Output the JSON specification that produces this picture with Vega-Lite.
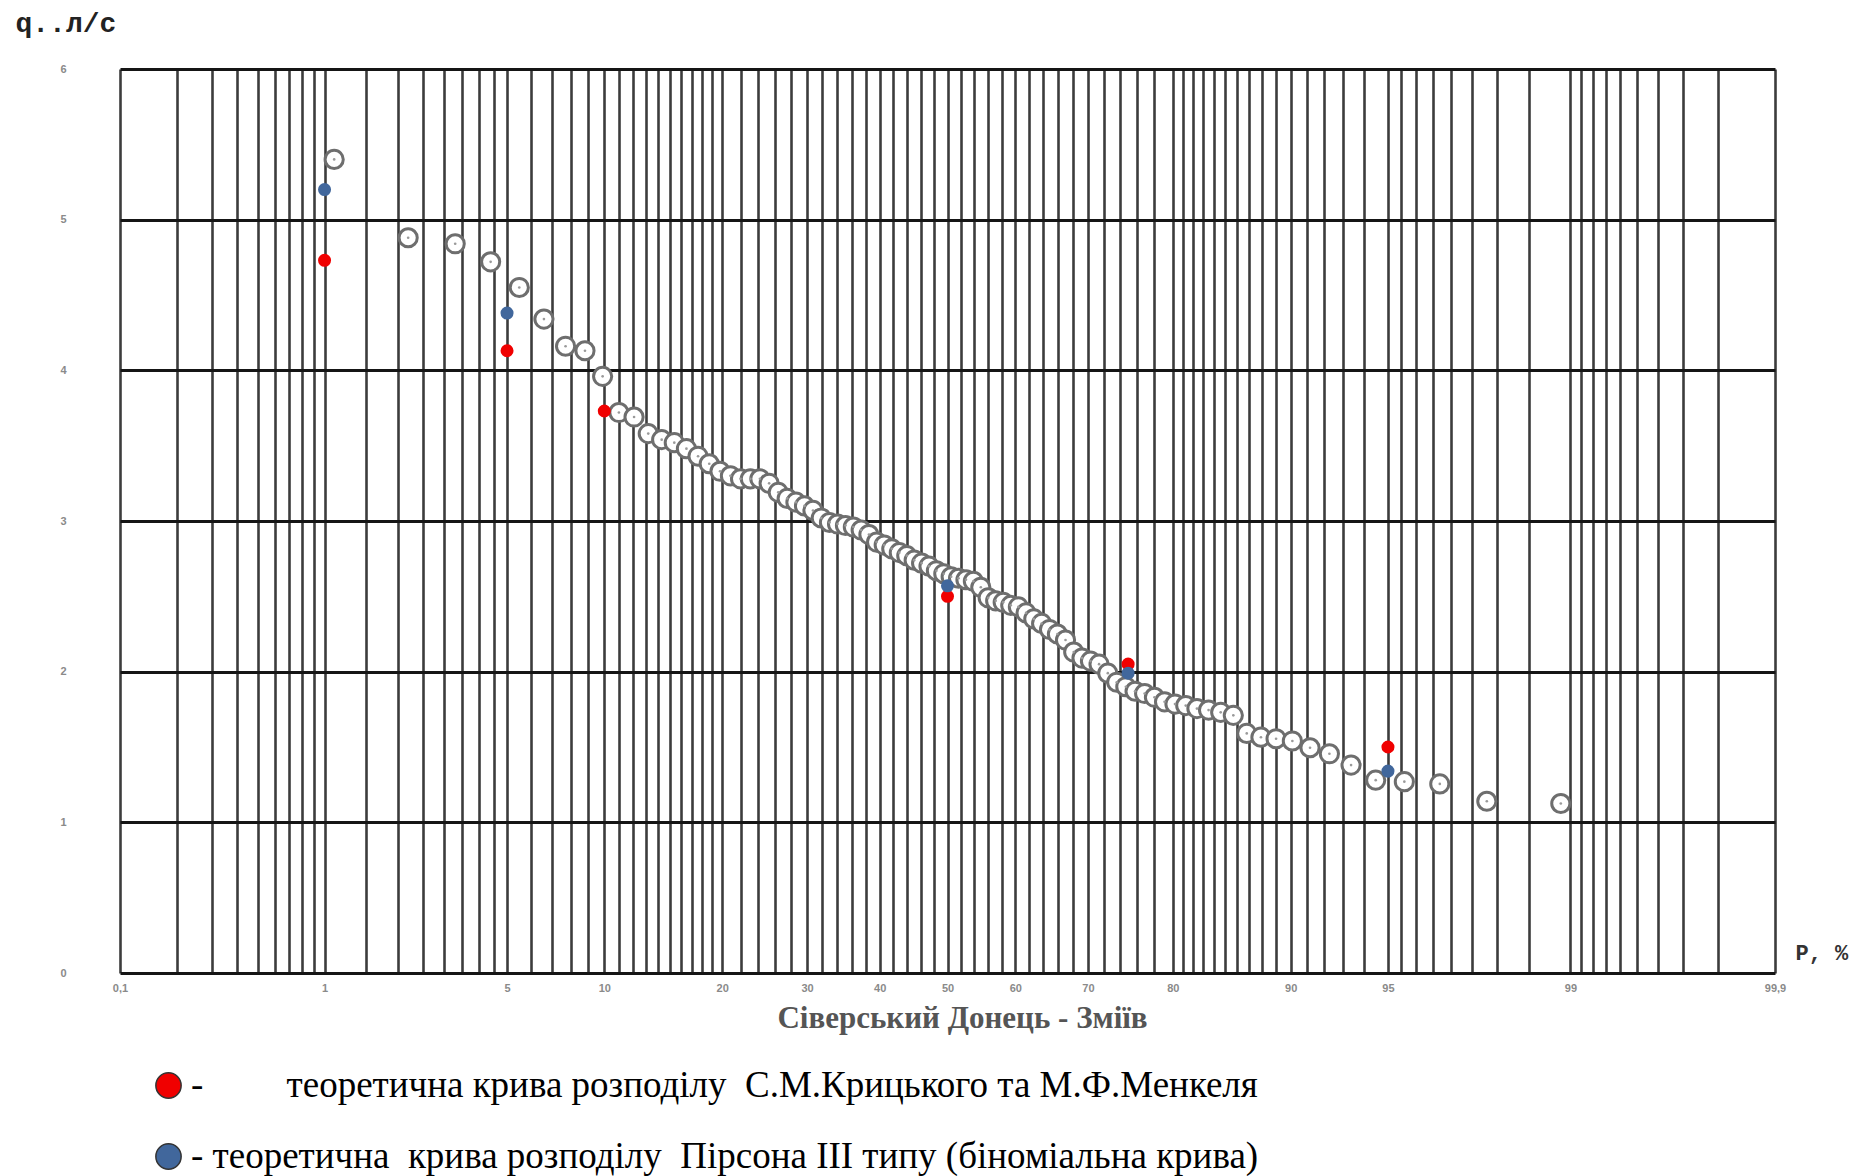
{
  "$schema": "https://vega.github.io/schema/vega-lite/v6.json",
  "width": 1655,
  "height": 904,
  "autosize": {"type": "none"},
  "padding": {"left": 120, "top": 69, "right": 99, "bottom": 203},
  "background": "white",
  "config": {"view": {"stroke": null}},
  "data": {"values": [
    {"P": 1.10, "q": 5.40, "s": "emp"},
    {"P": 2.20, "q": 4.88, "s": "emp"},
    {"P": 3.30, "q": 4.84, "s": "emp"},
    {"P": 4.40, "q": 4.72, "s": "emp"},
    {"P": 5.49, "q": 4.55, "s": "emp"},
    {"P": 6.59, "q": 4.34, "s": "emp"},
    {"P": 7.69, "q": 4.16, "s": "emp"},
    {"P": 8.79, "q": 4.13, "s": "emp"},
    {"P": 9.89, "q": 3.96, "s": "emp"},
    {"P": 10.99, "q": 3.72, "s": "emp"},
    {"P": 12.09, "q": 3.69, "s": "emp"},
    {"P": 13.19, "q": 3.58, "s": "emp"},
    {"P": 14.29, "q": 3.54, "s": "emp"},
    {"P": 15.38, "q": 3.52, "s": "emp"},
    {"P": 16.48, "q": 3.48, "s": "emp"},
    {"P": 17.58, "q": 3.43, "s": "emp"},
    {"P": 18.68, "q": 3.38, "s": "emp"},
    {"P": 19.78, "q": 3.33, "s": "emp"},
    {"P": 20.88, "q": 3.30, "s": "emp"},
    {"P": 21.98, "q": 3.28, "s": "emp"},
    {"P": 23.08, "q": 3.28, "s": "emp"},
    {"P": 24.18, "q": 3.28, "s": "emp"},
    {"P": 25.27, "q": 3.25, "s": "emp"},
    {"P": 26.37, "q": 3.19, "s": "emp"},
    {"P": 27.47, "q": 3.15, "s": "emp"},
    {"P": 28.57, "q": 3.125, "s": "emp"},
    {"P": 29.67, "q": 3.10, "s": "emp"},
    {"P": 30.77, "q": 3.07, "s": "emp"},
    {"P": 31.87, "q": 3.02, "s": "emp"},
    {"P": 32.97, "q": 2.99, "s": "emp"},
    {"P": 34.07, "q": 2.98, "s": "emp"},
    {"P": 35.16, "q": 2.97, "s": "emp"},
    {"P": 36.26, "q": 2.96, "s": "emp"},
    {"P": 37.36, "q": 2.94, "s": "emp"},
    {"P": 38.46, "q": 2.91, "s": "emp"},
    {"P": 39.56, "q": 2.86, "s": "emp"},
    {"P": 40.66, "q": 2.84, "s": "emp"},
    {"P": 41.76, "q": 2.815, "s": "emp"},
    {"P": 42.86, "q": 2.79, "s": "emp"},
    {"P": 43.96, "q": 2.77, "s": "emp"},
    {"P": 45.05, "q": 2.74, "s": "emp"},
    {"P": 46.15, "q": 2.72, "s": "emp"},
    {"P": 47.25, "q": 2.70, "s": "emp"},
    {"P": 48.35, "q": 2.67, "s": "emp"},
    {"P": 49.45, "q": 2.65, "s": "emp"},
    {"P": 50.55, "q": 2.63, "s": "emp"},
    {"P": 51.65, "q": 2.62, "s": "emp"},
    {"P": 52.75, "q": 2.61, "s": "emp"},
    {"P": 53.85, "q": 2.60, "s": "emp"},
    {"P": 54.95, "q": 2.56, "s": "emp"},
    {"P": 56.04, "q": 2.49, "s": "emp"},
    {"P": 57.14, "q": 2.47, "s": "emp"},
    {"P": 58.24, "q": 2.46, "s": "emp"},
    {"P": 59.34, "q": 2.44, "s": "emp"},
    {"P": 60.44, "q": 2.43, "s": "emp"},
    {"P": 61.54, "q": 2.39, "s": "emp"},
    {"P": 62.64, "q": 2.35, "s": "emp"},
    {"P": 63.74, "q": 2.32, "s": "emp"},
    {"P": 64.84, "q": 2.28, "s": "emp"},
    {"P": 65.93, "q": 2.25, "s": "emp"},
    {"P": 67.03, "q": 2.21, "s": "emp"},
    {"P": 68.13, "q": 2.13, "s": "emp"},
    {"P": 69.23, "q": 2.09, "s": "emp"},
    {"P": 70.33, "q": 2.07, "s": "emp"},
    {"P": 71.43, "q": 2.05, "s": "emp"},
    {"P": 72.53, "q": 1.99, "s": "emp"},
    {"P": 73.63, "q": 1.93, "s": "emp"},
    {"P": 74.73, "q": 1.90, "s": "emp"},
    {"P": 75.82, "q": 1.87, "s": "emp"},
    {"P": 76.92, "q": 1.855, "s": "emp"},
    {"P": 78.02, "q": 1.83, "s": "emp"},
    {"P": 79.12, "q": 1.80, "s": "emp"},
    {"P": 80.22, "q": 1.785, "s": "emp"},
    {"P": 81.32, "q": 1.775, "s": "emp"},
    {"P": 82.42, "q": 1.755, "s": "emp"},
    {"P": 83.52, "q": 1.745, "s": "emp"},
    {"P": 84.62, "q": 1.73, "s": "emp"},
    {"P": 85.71, "q": 1.71, "s": "emp"},
    {"P": 86.81, "q": 1.59, "s": "emp"},
    {"P": 87.91, "q": 1.565, "s": "emp"},
    {"P": 89.01, "q": 1.555, "s": "emp"},
    {"P": 90.11, "q": 1.54, "s": "emp"},
    {"P": 91.21, "q": 1.495, "s": "emp"},
    {"P": 92.31, "q": 1.455, "s": "emp"},
    {"P": 93.41, "q": 1.38, "s": "emp"},
    {"P": 94.51, "q": 1.28, "s": "emp"},
    {"P": 95.60, "q": 1.27, "s": "emp"},
    {"P": 96.70, "q": 1.255, "s": "emp"},
    {"P": 97.80, "q": 1.14, "s": "emp"},
    {"P": 98.90, "q": 1.125, "s": "emp"},
    {"P": 1, "q": 4.73, "s": "kr"},
    {"P": 5, "q": 4.13, "s": "kr"},
    {"P": 10, "q": 3.73, "s": "kr"},
    {"P": 50, "q": 2.50, "s": "kr"},
    {"P": 75, "q": 2.05, "s": "kr"},
    {"P": 95, "q": 1.50, "s": "kr"},
    {"P": 1, "q": 5.20, "s": "pe"},
    {"P": 5, "q": 4.38, "s": "pe"},
    {"P": 50, "q": 2.57, "s": "pe"},
    {"P": 75, "q": 1.99, "s": "pe"},
    {"P": 95, "q": 1.34, "s": "pe"}
  ]},
  "transform": [{"calculate": "quantileNormal(datum.P / 100)", "as": "z"}],
  "resolve": {"axis": {"x": "independent", "y": "independent"}},
  "layer": [
    {
      "transform": [{"filter": "datum.s == 'emp'"}],
      "mark": {"type": "point", "shape": "circle", "filled": true, "fill": "white", "stroke": "#6e6e6e", "strokeWidth": 3, "size": 330, "opacity": 1},
      "encoding": {
        "x": {
          "field": "z", "type": "quantitative",
          "scale": {"domain": [-3.0902, 3.0902], "nice": false, "zero": false},
          "axis": {
            "orient": "bottom",
            "values": [-3.0902, -2.8782, -2.7478, -2.6521, -2.5758, -2.5121, -2.4573, -2.4089, -2.3656, -2.3263, -2.1701, -2.0537, -1.96, -1.8808, -1.8119, -1.7507, -1.6954, -1.6449, -1.5548, -1.4758, -1.4051, -1.3408, -1.2816, -1.2265, -1.175, -1.1264, -1.0803, -1.0364, -0.9945, -0.9542, -0.9154, -0.8779, -0.8416, -0.7722, -0.7063, -0.6433, -0.5828, -0.5244, -0.4677, -0.4125, -0.3585, -0.3055, -0.2533, -0.2019, -0.151, -0.1004, -0.0502, 0, 0.0502, 0.1004, 0.151, 0.2019, 0.2533, 0.3055, 0.3585, 0.4125, 0.4677, 0.5244, 0.5828, 0.6433, 0.7063, 0.7722, 0.8416, 0.8779, 0.9154, 0.9542, 0.9945, 1.0364, 1.0803, 1.1264, 1.175, 1.2265, 1.2816, 1.3408, 1.4051, 1.4758, 1.5548, 1.6449, 1.6954, 1.7507, 1.8119, 1.8808, 1.96, 2.0537, 2.1701, 2.3263, 2.3656, 2.4089, 2.4573, 2.5121, 2.5758, 2.6521, 2.7478, 2.8782, 3.0902],
            "labelExpr": "indexof([0.1, 1, 5, 10, 20, 30, 40, 50, 60, 70, 80, 90, 95, 99, 99.9], round(cumulativeNormal(datum.value) * 1000) / 10) >= 0 ? replace(format(round(cumulativeNormal(datum.value) * 1000) / 10, ''), '.', ',') : ''",
            "labelOverlap": false,
            "labelFlush": false,
            "labelFont": "Liberation Sans",
            "labelFontSize": 11,
            "labelFontWeight": "bold",
            "labelColor": "#8a8a8a",
            "labelPadding": 9,
            "ticks": false,
            "tickSize": 0,
            "domain": false,
            "grid": true,
            "gridColor": "#3c3c3c",
            "gridWidth": 2.6,
            "title": "Сіверський Донець - Зміїв",
            "titleFont": "Liberation Serif",
            "titleFontSize": 31,
            "titleFontWeight": "bold",
            "titleColor": "#555555",
            "titleX": 842,
            "titleY": 45,
            "titleAlign": "center",
            "titleBaseline": "middle"
          }
        },
        "y": {
          "field": "q", "type": "quantitative",
          "scale": {"domain": [0, 6], "nice": false, "zero": true},
          "axis": {
            "values": [0, 1, 2, 3, 4, 5, 6],
            "labelFont": "Liberation Sans",
            "labelFontSize": 11,
            "labelFontWeight": "bold",
            "labelColor": "#8a8a8a",
            "labelPadding": 54,
            "ticks": false,
            "tickSize": 0,
            "domain": false,
            "grid": true,
            "gridColor": "#151515",
            "gridWidth": 2.8,
            "title": "q..л/с",
            "titleFont": "Liberation Mono",
            "titleFontSize": 28,
            "titleFontWeight": "bold",
            "titleColor": "#222222",
            "titleAngle": 0,
            "titleAlign": "left",
            "titleBaseline": "middle",
            "titleX": -105,
            "titleY": -46
          }
        }
      }
    },
    {
      "transform": [{"filter": "datum.s == 'emp'"}],
      "mark": {"type": "point", "shape": "circle", "filled": true, "color": "#9a9a9a", "size": 7, "opacity": 1},
      "encoding": {
        "x": {"field": "z", "type": "quantitative", "axis": null},
        "y": {"field": "q", "type": "quantitative", "axis": null}
      }
    },
    {
      "transform": [{"filter": "datum.s != 'emp'"}],
      "mark": {"type": "point", "shape": "circle", "filled": true, "size": 170, "opacity": 1},
      "encoding": {
        "x": {
          "field": "z", "type": "quantitative",
          "axis": {
            "orient": "top",
            "labels": false, "ticks": false, "domain": false, "grid": false,
            "title": "P, %",
            "titleFont": "Liberation Mono",
            "titleFontSize": 22,
            "titleFontWeight": "bold",
            "titleColor": "#333333",
            "titleAngle": 0,
            "titleAlign": "left",
            "titleBaseline": "middle",
            "titleX": 1675,
            "titleY": 883
          }
        },
        "y": {"field": "q", "type": "quantitative", "axis": null},
        "color": {
          "field": "s", "type": "nominal",
          "scale": {"domain": ["kr", "pe"], "range": ["#f00000", "#41679c"]},
          "legend": {
            "orient": "none",
            "legendX": 30,
            "legendY": 998,
            "direction": "vertical",
            "title": null,
            "padding": 0,
            "symbolType": "circle",
            "symbolSize": 640,
            "symbolStrokeColor": "#333333",
            "symbolStrokeWidth": 1.5,
            "symbolOpacity": 1,
            "labelFont": "Liberation Serif",
            "labelFontSize": 37,
            "labelColor": "#000000",
            "labelOffset": 4,
            "labelLimit": 0,
            "rowPadding": 33,
            "labelExpr": "datum.label == 'kr' ? '-\u00a0\u00a0\u00a0\u00a0\u00a0\u00a0\u00a0\u00a0\u00a0теоретична крива розподілу\u00a0 С.М.Крицького та М.Ф.Менкеля' : '- теоретична\u00a0 крива розподілу\u00a0 Пірсона ІІІ типу (біноміальна крива)'"
          }
        }
      }
    }
  ]
}
